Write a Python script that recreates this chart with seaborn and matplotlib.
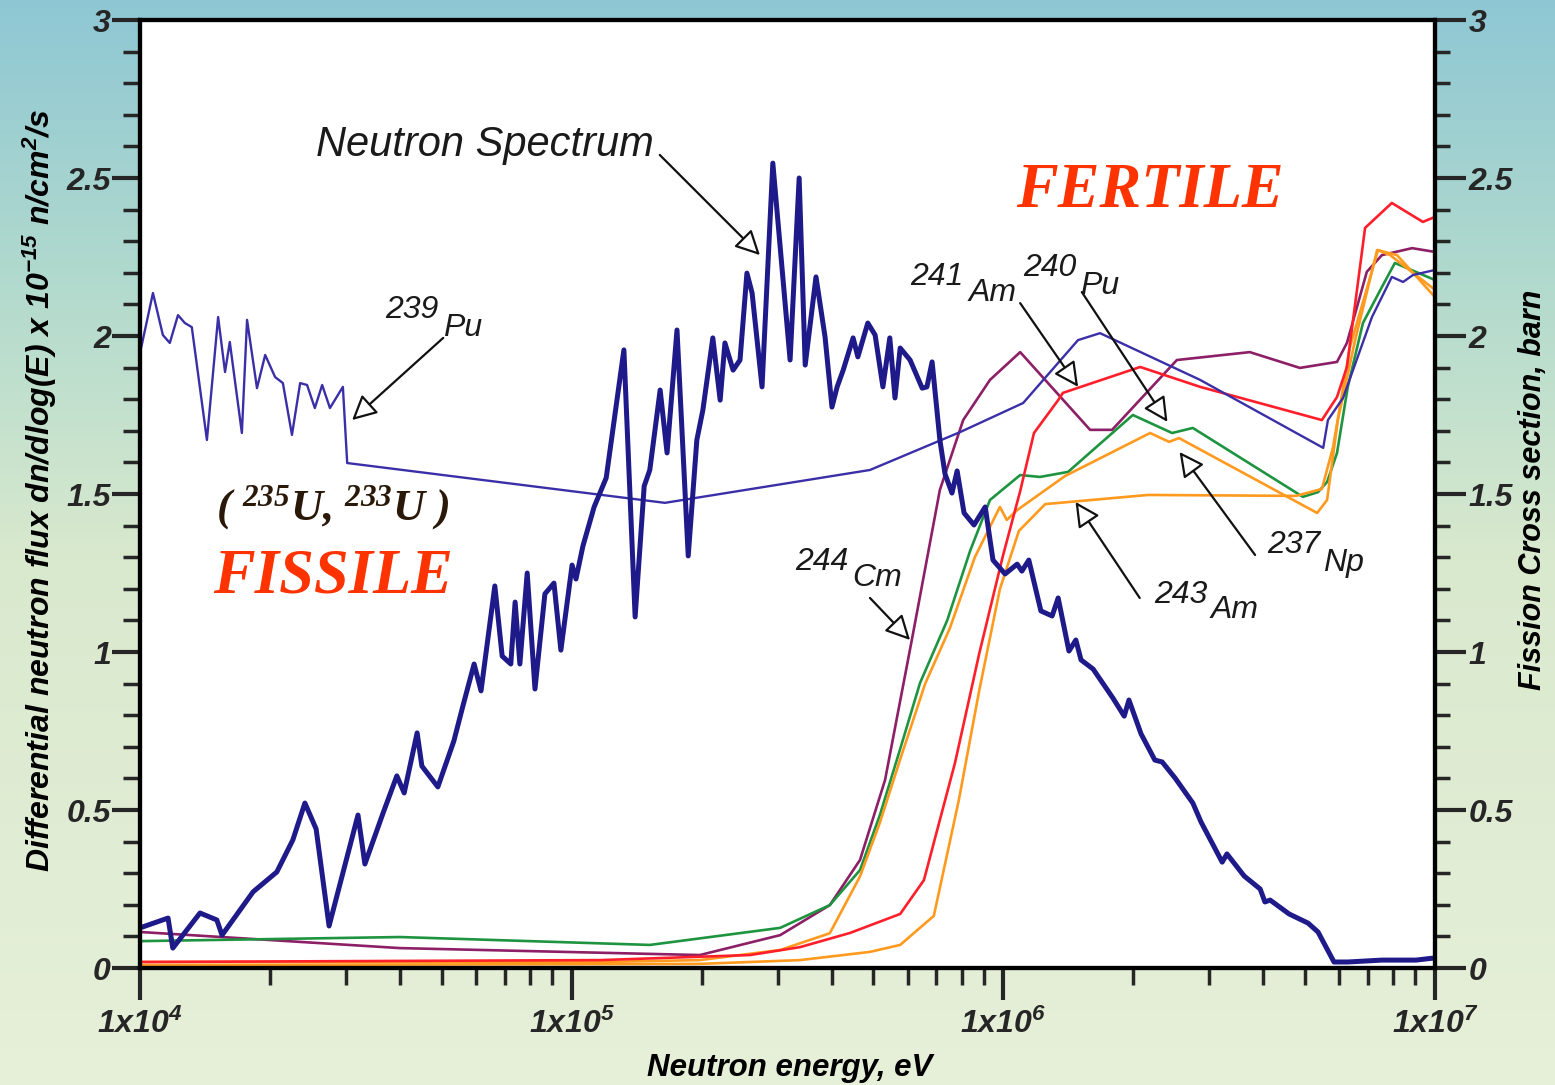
import numpy as np
import matplotlib
matplotlib.use("Agg")
import matplotlib.pyplot as plt
from matplotlib.ticker import LogLocator, NullFormatter, MultipleLocator
import seaborn as sns

# ---------------------------------------------------------------------------
# Neutron spectrum: log10(E / eV) and differential flux (x 1e15 n/cm2/s)
spectrum_logE = [4.000, 4.065, 4.076, 4.139, 4.178, 4.190, 4.262, 4.317, 4.354, 4.382,
                 4.408, 4.438, 4.505, 4.521, 4.563, 4.595, 4.612, 4.642, 4.653, 4.690,
                 4.727, 4.748, 4.774, 4.790, 4.822, 4.839, 4.859, 4.869, 4.880, 4.897,
                 4.915, 4.938, 4.959, 4.975, 5.001, 5.010, 5.026, 5.052, 5.080, 5.121,
                 5.147, 5.168, 5.181, 5.205, 5.221, 5.244, 5.270, 5.290, 5.304, 5.327,
                 5.344, 5.355, 5.374, 5.390, 5.406, 5.418, 5.441, 5.466, 5.506, 5.527,
                 5.541, 5.566, 5.587, 5.603, 5.615, 5.629, 5.652, 5.663, 5.686, 5.703,
                 5.721, 5.737, 5.749, 5.761, 5.784, 5.812, 5.823, 5.835, 5.853, 5.865,
                 5.881, 5.893, 5.909, 5.932, 5.958, 5.976, 6.004, 6.032, 6.043, 6.059,
                 6.087, 6.113, 6.127, 6.152, 6.168, 6.180, 6.208, 6.254, 6.280, 6.291,
                 6.319, 6.351, 6.368, 6.398, 6.439, 6.458, 6.507, 6.518, 6.558, 6.595,
                 6.606, 6.618, 6.662, 6.706, 6.729, 6.766, 6.798, 6.877, 6.956, 7.000]
spectrum_flux = [0.127, 0.158, 0.063, 0.174, 0.152, 0.104, 0.241, 0.304, 0.405, 0.522,
                 0.440, 0.133, 0.484, 0.329, 0.490, 0.608, 0.554, 0.744, 0.639, 0.573,
                 0.718, 0.829, 0.962, 0.877, 1.209, 0.987, 0.962, 1.158, 0.962, 1.250,
                 0.883, 1.184, 1.218, 1.006, 1.275, 1.231, 1.335, 1.459, 1.551, 1.956,
                 1.111, 1.525, 1.576, 1.829, 1.630, 2.019, 1.304, 1.671, 1.766, 1.994,
                 1.797, 1.978, 1.892, 1.924, 2.199, 2.136, 1.839, 2.547, 1.924, 2.500,
                 1.908, 2.187, 1.997, 1.775, 1.839, 1.892, 1.994, 1.934, 2.041, 2.003,
                 1.839, 1.994, 1.804, 1.962, 1.924, 1.835, 1.839, 1.918, 1.671, 1.563,
                 1.503, 1.573, 1.440, 1.402, 1.459, 1.291, 1.247, 1.278, 1.256, 1.291,
                 1.130, 1.114, 1.171, 1.003, 1.038, 0.975, 0.946, 0.854, 0.797, 0.848,
                 0.741, 0.658, 0.652, 0.601, 0.522, 0.462, 0.335, 0.361, 0.291, 0.250,
                 0.209, 0.215, 0.171, 0.142, 0.114, 0.019, 0.019, 0.025, 0.025, 0.032]

# Fission cross sections (barn) vs log10(E / eV)
pu239_logE = [4.000, 4.030, 4.053, 4.069, 4.088, 4.104, 4.120, 4.155, 4.181, 4.197,
              4.208, 4.236, 4.248, 4.271, 4.290, 4.313, 4.331, 4.352, 4.371, 4.387,
              4.405, 4.422, 4.440, 4.470, 4.480, 5.216, 5.691, 5.900, 6.046, 6.173,
              6.224, 6.456, 6.741, 6.752, 6.787, 6.854, 6.900, 6.926, 6.949, 7.000]
pu239_xs = [1.946, 2.136, 2.003, 1.978, 2.066, 2.041, 2.028, 1.671, 2.060, 1.886,
            1.981, 1.693, 2.051, 1.835, 1.940, 1.870, 1.851, 1.687, 1.851, 1.845,
            1.772, 1.845, 1.772, 1.839, 1.598, 1.472, 1.576, 1.696, 1.788, 1.987,
            2.009, 1.861, 1.646, 1.734, 1.804, 2.060, 2.187, 2.171, 2.193, 2.209]

cm244_logE = [4.000, 4.602, 5.297, 5.483, 5.598, 5.668, 5.726, 5.788, 5.853, 5.907,
              5.969, 6.039, 6.201, 6.252, 6.402, 6.571, 6.687, 6.773, 6.796, 6.842,
              6.877, 6.947, 7.000]
cm244_xs = [0.114, 0.063, 0.041, 0.104, 0.199, 0.342, 0.595, 1.038, 1.513, 1.734,
            1.861, 1.949, 1.703, 1.703, 1.924, 1.949, 1.899, 1.918, 1.978, 2.203,
            2.256, 2.278, 2.266]

pu240_logE = [4.000, 4.602, 5.181, 5.483, 5.598, 5.668, 5.714, 5.761, 5.807, 5.870,
              5.923, 5.969, 6.039, 6.085, 6.150, 6.300, 6.391, 6.439, 6.694, 6.729,
              6.750, 6.773, 6.798, 6.833, 6.877, 6.907, 6.935, 7.000]
pu240_xs = [0.085, 0.098, 0.073, 0.127, 0.199, 0.310, 0.484, 0.693, 0.902, 1.100,
            1.320, 1.481, 1.560, 1.554, 1.570, 1.750, 1.693, 1.709, 1.491, 1.506,
            1.538, 1.630, 1.839, 2.041, 2.155, 2.231, 2.215, 2.177]

np237_logE = [4.000, 5.066, 5.297, 5.483, 5.598, 5.668, 5.714, 5.761, 5.819, 5.876,
              5.934, 5.992, 6.008, 6.032, 6.143, 6.340, 6.384, 6.407, 6.727, 6.750,
              6.775, 6.815, 6.866, 6.912, 7.000]
np237_xs = [0.019, 0.019, 0.025, 0.057, 0.110, 0.290, 0.460, 0.660, 0.900, 1.075,
            1.300, 1.459, 1.418, 1.449, 1.557, 1.693, 1.665, 1.677, 1.440, 1.481,
            1.734, 1.987, 2.272, 2.256, 2.123]

am243_logE = [4.000, 5.297, 5.529, 5.691, 5.761, 5.839, 5.897, 5.944, 5.992, 6.036,
              6.097, 6.335, 6.678, 6.738, 6.764, 6.803, 6.868, 6.896, 7.000]
am243_xs = [0.009, 0.013, 0.025, 0.051, 0.073, 0.165, 0.532, 0.877, 1.199, 1.383,
            1.468, 1.497, 1.494, 1.516, 1.649, 1.965, 2.272, 2.256, 2.146]

am241_logE = [4.000, 5.066, 5.413, 5.529, 5.645, 5.761, 5.816, 5.888, 5.944, 5.999,
              6.039, 6.071, 6.127, 6.138, 6.317, 6.456, 6.738, 6.773, 6.796, 6.838,
              6.900, 6.972, 7.000]
am241_xs = [0.019, 0.025, 0.041, 0.066, 0.111, 0.171, 0.278, 0.649, 0.994, 1.304,
            1.509, 1.693, 1.797, 1.820, 1.902, 1.839, 1.734, 1.807, 1.902, 2.342,
            2.421, 2.361, 2.377]

x_tick_values = [1e4, 1e5, 1e6, 1e7]
x_tick_labels = [r"1x10$\mathregular{^4}$", r"1x10$\mathregular{^5}$",
                 r"1x10$\mathregular{^6}$", r"1x10$\mathregular{^7}$"]
y_tick_values = [0, 0.5, 1, 1.5, 2, 2.5, 3]
y_tick_labels = ["0", "0.5", "1", "1.5", "2", "2.5", "3"]

# ---------------------------------------------------------------------------
sns.set_style("ticks")
plt.rcParams["font.family"] = ["Liberation Sans", "DejaVu Sans"]

W, H = 1555, 1085
fig = plt.figure(figsize=(W / 100, H / 100), dpi=100)

# soft teal-to-pale-green backdrop
bg = fig.add_axes([0, 0, 1, 1])
rows = np.arange(H)
stop_rows = [0, 300, 560, 1085]
stop_cols = np.array([[142, 199, 212], [180, 219, 205], [217, 233, 206], [231, 240, 217]]) / 255
grad = np.stack([np.interp(rows, stop_rows, stop_cols[:, k]) for k in range(3)], axis=1)
bg.imshow(grad[:, None, :], aspect="auto", extent=[0, 1, 0, 1], origin="upper")
bg.set_axis_off()

ax = fig.add_axes([140 / W, 117 / H, 1295 / W, 948 / H])
ax.set_facecolor("white")
ax.set_xscale("log")

def energy(logs):
    return 10.0 ** np.asarray(logs)

curves = [
    (cm244_logE, cm244_xs, "#8c1f66"),
    (pu240_logE, pu240_xs, "#1e9440"),
    (np237_logE, np237_xs, "#ff9a1f"),
    (am243_logE, am243_xs, "#ff9a1f"),
    (am241_logE, am241_xs, "#ff1f2a"),
]
for logs, vals, col in curves:
    sns.lineplot(x=energy(logs), y=vals, ax=ax, color=col, linewidth=1.9,
                 estimator=None, sort=False, legend=False)
sns.lineplot(x=energy(pu239_logE), y=pu239_xs, ax=ax, color="#3b2fa8", linewidth=1.7,
             estimator=None, sort=False, legend=False)
sns.lineplot(x=energy(spectrum_logE), y=spectrum_flux, ax=ax, color="#1f1a8a",
             linewidth=3.6, estimator=None, sort=False, legend=False)

ax.set_xlim(1e4, 1e7)
ax.set_ylim(0, 3)
ax.set_xlabel("")
ax.set_ylabel("")

tick_font = dict(fontsize=23, fontweight="bold", fontstyle="italic")
ax.set_xticks(x_tick_values, labels=x_tick_labels, **tick_font)
ax.xaxis.set_minor_locator(LogLocator(base=10, subs=np.arange(2, 10)))
ax.xaxis.set_minor_formatter(NullFormatter())
ax.set_yticks(y_tick_values, labels=y_tick_labels, **tick_font)
ax.yaxis.set_minor_locator(MultipleLocator(0.1))
ax.tick_params(axis="x", which="major", direction="out", length=23, width=3, pad=6)
ax.tick_params(axis="x", which="minor", direction="out", length=12, width=2.5)
ax.tick_params(axis="y", which="major", direction="out", length=20, width=3, pad=1)
ax.tick_params(axis="y", which="minor", direction="out", length=12, width=2.5)
for sp in ax.spines.values():
    sp.set_visible(True)
    sp.set_linewidth(3)
    sp.set_color("black")

ax2 = ax.twinx()
ax2.set_ylim(0, 3)
ax2.set_yticks(y_tick_values, labels=y_tick_labels, **tick_font)
ax2.yaxis.set_minor_locator(MultipleLocator(0.1))
ax2.tick_params(axis="y", which="major", direction="out", length=22, width=3, pad=2)
ax2.tick_params(axis="y", which="minor", direction="out", length=11, width=2.5)
for sp in ax2.spines.values():
    sp.set_linewidth(3)
    sp.set_color("black")

# axis titles
lab_font = dict(fontweight="bold", fontstyle="italic", color="black",
                ha="center", va="center")
fig.text(40 / W, 1 - 490 / H,
         r"Differential neutron flux dn/dlog(E) x 10$\mathregular{^{-15}}$ n/cm$\mathregular{^2}$/s",
         rotation=90, fontsize=23, **lab_font)
fig.text(1533 / W, 1 - 490 / H, "Fission Cross section, barn",
         rotation=90, fontsize=22, **lab_font)
fig.text(790 / W, 1 - 1068 / H, "Neutron energy, eV", fontsize=22.5, **lab_font)

# isotope labels with open-headed pointers
note_font = dict(fontsize=23, fontstyle="italic", color="#1a1a1a", ha="center", va="center")
arrow_kw = dict(arrowstyle="-|>,head_length=0.75,head_width=0.38", fc="white", ec="#111111",
                lw=1.6, shrinkA=0, shrinkB=0, mutation_scale=20)

def pointer(tail, tip):
    ax.annotate("", xy=tip, xytext=tail, arrowprops=arrow_kw, annotation_clip=False)

def nuclide(mass, sym, mass_xy, sym_xy):
    ax.text(*mass_xy, mass, **note_font)
    ax.text(*sym_xy, sym, **note_font)

ax.text(6.3e4, 2.604, "Neutron Spectrum", fontsize=30, fontstyle="italic",
        color="#1a1a1a", ha="center", va="center")
pointer((1.60e5, 2.573), (2.73e5, 2.256))

nuclide("239", "Pu", (4.27e4, 2.082), (5.6e4, 2.025))
pointer((5.04e4, 1.994), (3.1e4, 1.734))

nuclide("241", "Am", (7.02e5, 2.187), (9.42e5, 2.136))
pointer((1.094e6, 2.104), (1.49e6, 1.839))

nuclide("240", "Pu", (1.283e6, 2.215), (1.675e6, 2.158))
pointer((1.52e6, 2.139), (2.40e6, 1.728))

nuclide("244", "Cm", (3.80e5, 1.285), (5.09e5, 1.234))
pointer((4.91e5, 1.171), (6.08e5, 1.038))

nuclide("243", "Am", (2.58e6, 1.180), (3.44e6, 1.133))
pointer((2.07e6, 1.171), (1.47e6, 1.475))

nuclide("237", "Np", (4.71e6, 1.339), (6.15e6, 1.282))
pointer((3.83e6, 1.307), (2.56e6, 1.633))

serif_bi = dict(family="Liberation Serif", fontweight="bold", fontstyle="italic",
                ha="center", va="center")
ax.text(2.19e6, 2.456, "FERTILE", fontsize=45, color="#ff3300", **serif_bi)
ax.text(2.80e4, 1.237, "FISSILE", fontsize=45, color="#ff3300", **serif_bi)
ax.text(2.80e4, 1.456, r"( $\mathregular{^{235}}$U, $\mathregular{^{233}}$U )",
        fontsize=32, color="#2a1808", **serif_bi)

fig.savefig("out.png", dpi=100)
